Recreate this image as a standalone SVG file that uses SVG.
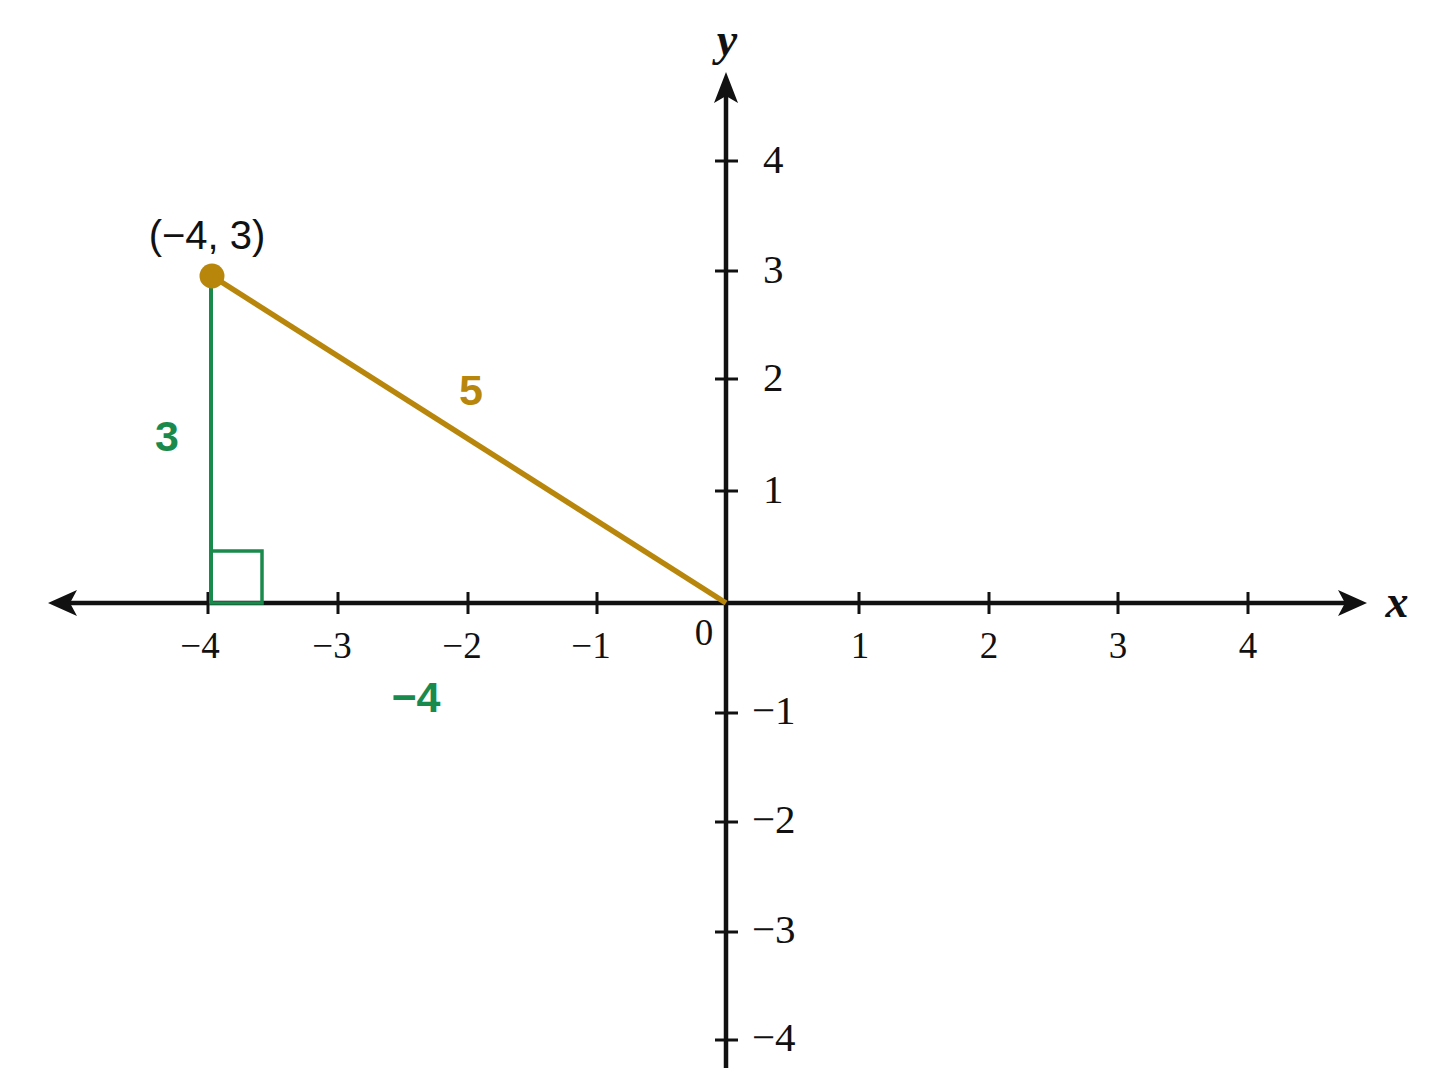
<svg xmlns="http://www.w3.org/2000/svg" width="1448" height="1086" viewBox="0 0 1448 1086">
<defs>
<style>
.axis{stroke:#111;stroke-width:4.5;fill:none}
.tick{stroke:#111;stroke-width:3}
.num{font-family:"Liberation Serif","Times New Roman",serif;font-size:37px;fill:#111}
.ynum{font-family:"Liberation Serif","Times New Roman",serif;font-size:41px;fill:#111}
.var{font-family:"Liberation Serif","Times New Roman",serif;font-size:46px;font-style:italic;font-weight:bold;fill:#111}
.green{stroke:#1a8a4c;fill:none}
.glabel{font-family:"Liberation Sans",Arial,sans-serif;font-weight:bold;font-size:43px;fill:#1a8a4c}
.olabel{font-family:"Liberation Sans",Arial,sans-serif;font-weight:bold;font-size:43px;fill:#b8860b}
</style>
</defs>
<rect width="1448" height="1086" fill="#fff"/>
<g id="axes">
<line class="axis" x1="70" y1="603" x2="1345" y2="603"/>
<polygon points="48,603 77,590 70,603 77,616" fill="#111"/>
<polygon points="1367,603 1338,590 1345,603 1338,616" fill="#111"/>
<line class="axis" x1="726" y1="1068" x2="726" y2="95"/>
<polygon points="726,72 714,103 726,96 738,103" fill="#111"/>
<text class="var" x="1397" y="617" text-anchor="middle">x</text>
<text class="var" x="727" y="55" text-anchor="middle">y</text>
</g>
<g id="x-ticks">
<line class="tick" x1="208" y1="592" x2="208" y2="614"/>
<line class="tick" x1="338" y1="592" x2="338" y2="614"/>
<line class="tick" x1="468" y1="592" x2="468" y2="614"/>
<line class="tick" x1="597" y1="592" x2="597" y2="614"/>
<line class="tick" x1="859" y1="592" x2="859" y2="614"/>
<line class="tick" x1="989" y1="592" x2="989" y2="614"/>
<line class="tick" x1="1118" y1="592" x2="1118" y2="614"/>
<line class="tick" x1="1248" y1="592" x2="1248" y2="614"/>
<text class="num" x="200" y="658" text-anchor="middle">−4</text>
<text class="num" x="332" y="658" text-anchor="middle">−3</text>
<text class="num" x="462" y="658" text-anchor="middle">−2</text>
<text class="num" x="591" y="658" text-anchor="middle">−1</text>
<text class="num" x="704" y="645" text-anchor="middle">0</text>
<text class="num" x="860" y="658" text-anchor="middle">1</text>
<text class="num" x="989" y="658" text-anchor="middle">2</text>
<text class="num" x="1118" y="658" text-anchor="middle">3</text>
<text class="num" x="1248" y="658" text-anchor="middle">4</text>
</g>
<g id="y-ticks">
<line class="tick" x1="715" y1="161" x2="738" y2="161"/>
<line class="tick" x1="715" y1="271" x2="738" y2="271"/>
<line class="tick" x1="715" y1="379" x2="738" y2="379"/>
<line class="tick" x1="715" y1="491" x2="738" y2="491"/>
<line class="tick" x1="715" y1="713" x2="738" y2="713"/>
<line class="tick" x1="715" y1="822" x2="738" y2="822"/>
<line class="tick" x1="715" y1="932" x2="738" y2="932"/>
<line class="tick" x1="715" y1="1040" x2="738" y2="1040"/>
<text class="ynum" x="763" y="173">4</text>
<text class="ynum" x="763" y="283">3</text>
<text class="ynum" x="763" y="391">2</text>
<text class="ynum" x="763" y="503">1</text>
<text class="ynum" x="752" y="724">−1</text>
<text class="ynum" x="752" y="833">−2</text>
<text class="ynum" x="752" y="943">−3</text>
<text class="ynum" x="752" y="1051">−4</text>
</g>
<g id="triangle">
<line class="green" stroke-width="4" x1="211" y1="278" x2="211" y2="603"/>
<rect class="green" stroke-width="3.5" x="211" y="551" width="51" height="52"/>
<line x1="212" y1="276" x2="726" y2="603" stroke="#b8860b" stroke-width="5.5"/>
</g>
<g id="point">
<circle cx="212" cy="276" r="12.5" fill="#b8860b"/>
<text x="207" y="249" text-anchor="middle" font-family="Liberation Sans,Arial,sans-serif" font-size="40" fill="#111">(−4, 3)</text>
</g>
<g id="labels">
<text class="glabel" x="167" y="451" text-anchor="middle">3</text>
<text class="olabel" x="471" y="405" text-anchor="middle">5</text>
<text class="glabel" x="416" y="712" text-anchor="middle">−4</text>
</g>
</svg>
